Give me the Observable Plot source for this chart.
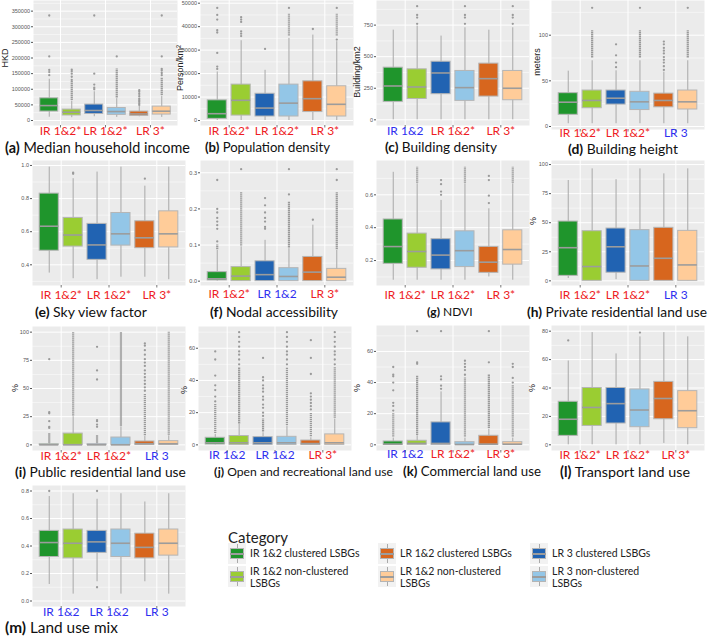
<!DOCTYPE html>
<html><head><meta charset="utf-8">
<script src="https://cdn.jsdelivr.net/npm/d3@7"></script>
<script src="https://cdn.jsdelivr.net/npm/@observablehq/plot@0.6"></script>
<style>
body{margin:0;background:#fff;}
#root{position:relative;width:709px;height:636px;overflow:hidden;font-family:Lato,"Open Sans",sans-serif;}
.title{position:absolute;white-space:nowrap;font-size:14.5px;line-height:1;color:#111;transform:translate(0,-50%);}
.ylab{position:absolute;white-space:nowrap;font-family:"Liberation Sans",Arial,sans-serif;font-size:9px;line-height:1;color:#222;transform:translate(-50%,-50%) rotate(-90deg);}
.leg{position:absolute;font-size:10.5px;color:#222;line-height:12px;white-space:nowrap;}
.sw{position:absolute;width:18px;height:21px;background:#f2f2f2;}
.sw .w{position:absolute;left:8.5px;width:1px;top:1px;bottom:1px;background:#aaa;}
.sw .b{position:absolute;left:2px;right:2px;top:5px;bottom:5px;border:1px solid #b5b5b5;}
.sw .m{position:absolute;left:2px;right:2px;top:10px;height:1.5px;background:#9c9c9c;}
</style></head><body><div id="root"></div>
<script>
const CATS = ["IR 1&2", "LR 1&2", "LR 3"];
const GROUPS = ["IR 1&2 clustered LSBGs", "IR 1&2 non-clustered LSBGs", "LR 1&2 clustered LSBGs", "LR 1&2 non-clustered LSBGs", "LR 3 clustered LSBGs", "LR 3 non-clustered LSBGs"];
const FILLS = ["#1f952c", "#9acd32", "#2163b2", "#93c6e7", "#d7661e", "#ffcc99"];
// legend swatches as printed in the reference legend
const LEGEND_FILLS = ["#1f952c", "#9acd32", "#d7661e", "#ffcc99", "#2163b2", "#93c6e7"];
const RED = "#ee1c24", BLUE = "#2f2fef";

// (a) Median household income  [lo, q1, median, q3, hi]
const incomeStats = [[10600,28600,47700,71000,132000],[9000,16000,26500,35000,62000],[12000,21000,32000,51000,92000],[10000,18000,28600,40000,70000],[12000,14800,21000,28600,45000],[10000,19000,29700,44500,78000]];
const incomeOut = [[145000,155000,162000,205000,336000],[130000,140000,150000,158000,163000],[100000,105000,115000,150000,336000],[205000],[50000,55000,60000,65000,70000,78000,85000,92000,97000],[145000,152000,160000,165000,205000,336000]];
const incomeDense = [null,[64000,125000],null,[72000,165000],null,[80000,135000]];
const incomeSig = [true,true,true];
const incomeTicks = [0,50000,100000,150000,200000,250000,300000,350000];

// (b) Population density
const popStats = [[0,700,2900,8600,20700],[0,2100,8600,15300,34000],[0,1700,5300,11400,21400],[0,1700,7400,15300,35000],[0,3600,9300,16700,36400],[0,1700,6900,14600,33600]];
const popOut = [[22000,23000,28800,37500,38500,43000,45000,48000],[36000,37000,38000,42000,43000,44000],[30500],[48000],[39000],[34500,48000]];
const popDense = [null,null,null,[36000,45500],null,[36000,45500]];
const popSig = [true,true,true];
const popTicks = [0,10000,20000,30000,40000,50000];

// (c) Building density
const bdStats = [[0,142,268,413,710],[0,165,260,400,742],[0,203,371,460,663],[0,150,255,387,729],[0,184,326,445,710],[0,155,250,387,729]];
const bdOut = [[],[760,810,830,900],[],[760,810,830,900],[],[760,810,830,900]];
const bdDense = [null,null,null,null,null,null];
const bdSig = [false,true,true];
const bdTicks = [0,250,500,750];

// (d) Building height
const bhStats = [[3,12.8,26.6,36.5,60.6],[3,20,28.5,39.4,72],[3,24,31,39.4,61],[3,18,27,38,72],[3,21,28.5,36,59.5],[3,18.6,27,39.4,72]];
const bhOut = [[],[130],[65,70,78,90],[130],[62,66,70,73,76,80,83,86,90,93],[130]];
const bhDense = [null,[75,105],null,[75,105],null,[75,105]];
const bhSig = [true,true,false];
const bhTicks = [0,50,100];

// (e) Sky view factor
const svfStats = [[0.35,0.485,0.633,0.83,0.99],[0.316,0.51,0.58,0.683,0.92],[0.31,0.43,0.52,0.647,0.96],[0.325,0.516,0.587,0.713,0.99],[0.325,0.5,0.563,0.663,0.875],[0.31,0.505,0.587,0.723,0.99]];
const svfOut = [[],[0.95,0.956],[],[],[0.92],[]];
const svfDense = [null,null,null,null,null,null];
const svfSig = [true,true,true];
const svfTicks = [0.4,0.6,0.8,1.0];

// (f) Nodal accessibility
const nodStats = [[0,0.002,0.0065,0.025,0.085],[0,0,0.014,0.039,0.095],[0,0,0.018,0.055,0.113],[0,0,0.013,0.036,0.09],[0,0,0.025,0.067,0.155],[0,0,0.011,0.034,0.085]];
const nodOut = [[0.11,0.145,0.155,0.165,0.175,0.19,0.2,0.28],[0.31],[0.145,0.15,0.165,0.175,0.19,0.21,0.23],[0.24,0.31],[0.17],[0.28,0.31]];
const nodDense = [[0.087,0.1],[0.097,0.245],null,[0.092,0.22],null,[0.087,0.245]];
const nodSig = [true,false,true];
const nodTicks = [0,0.1,0.2,0.3];

// (g) NDVI
const ndviStats = [[0.08,0.18,0.285,0.45,0.737],[0.08,0.156,0.255,0.364,0.667],[0.08,0.146,0.233,0.33,0.566],[0.08,0.16,0.26,0.378,0.667],[0.1,0.125,0.19,0.283,0.515],[0.08,0.175,0.267,0.384,0.667]];
const ndviOut = [[],[],[0.6,0.62,0.665,0.69],[],[0.55,0.595,0.69,0.715],[]];
const ndviDense = [null,[0.67,0.77],null,[0.67,0.77],null,[0.67,0.77]];
const ndviSig = [true,true,true];
const ndviTicks = [0.2,0.4,0.6];

// (h) Private residential land use
const privStats = [[2,4.3,28.5,51,86.3],[0,0,12.3,42.7,96.3],[1,7,29.3,45,87],[0,0,12.8,43.6,96.3],[0,0,19.4,45.6,92],[0,0,13.7,43,96.3]];
const privOut = [[],[],[],[],[],[]];
const privDense = [null,null,null,null,null,null];
const privSig = [true,true,false];
const privTicks = [0,25,50,75,100];

// (i) Public residential land use
const pubStats = [[0,0,0,0.5,1.2],[0,0,0,10,25],[0,0,0,0.5,1.2],[0,0,0,6.5,16],[0,0,1,3,7.5],[0,0,1,3.3,8]];
const pubOut = [[15,16,21,28,29,76],[],[16,18,21,22,58,66,87],[],[48,51,54,57,60,63,66,70,73,76,80,84,88,90],[]];
const pubDense = [[1.5,10],[25.5,100],[1.5,8],[16.5,100],[8,45],[8.5,100]];
const pubSig = [true,true,false];
const pubTicks = [0,25,50,75,100];

// (j) Open and recreational land use
const openStats = [[0,0.2,1.3,4.4,6.5],[0,0,1.3,5.5,12.8],[0,0,1.3,4.8,7.5],[0,0,1.3,5,11.7],[0,0,0.8,2.7,4.4],[0,0,1.3,6.5,16]];
const openOut = [[27,30,34,37,43,53,58],[50,53,56,58,61,64,67,70],[18,20,23,25,28,30,33,35,37,40,42,54],[50,53,56,58,61,64,67,70],[22,24,26,28,30,32,44,54,65],[50,53,56,58,61,64,67,70]];
const openDense = [[7,25],[13,48],[8,16],[12,48],[5,20],[16.5,48]];
const openSig = [false,false,true];
const openTicks = [0,20,40,60];

// (k) Commercial land use
const comStats = [[0,0,0.4,2.15,4.3],[0,0,0.9,2.6,5.8],[0,0,0.9,14.4,34],[0,0,0.2,1.7,4.3],[0,0,0.4,5.8,10],[0,0,0.4,1.7,4.3]];
const comOut = [[22,25,27,35,40,44,45,50],[52,53,73],[36,38,42,44,73],[45,48,50,52,54],[53,73],[40,43,50,52]];
const comDense = [[5,20],[6,44],null,[5,43],[10.5,45],[5,38]];
const comSig = [false,true,true];
const comTicks = [0,20,40,60];

// (l) Transport land use
const traStats = [[0,6.3,18,30.3,59],[0,13.3,26.3,40,79],[0,15,29,40,64],[0,12.4,24.5,39,76],[1,18,32.6,44.3,79],[0,11.7,24,37.8,76]];
const traOut = [[73.5],[],[],[79],[],[]];
const traDense = [null,null,null,null,null,null];
const traSig = [true,true,true];
const traTicks = [0,20,40,60,80];

// (m) Land use mix
const mixStats = [[0.12,0.32,0.425,0.51,0.76],[0.05,0.31,0.42,0.52,0.78],[0.14,0.35,0.43,0.51,0.74],[0.05,0.32,0.42,0.52,0.78],[0.14,0.31,0.39,0.49,0.72],[0.05,0.33,0.42,0.52,0.78]];
const mixOut = [[0.8],[],[0.8,0.1],[],[],[]];
const mixDense = [null,null,null,null,null,null];
const mixSig = [false,false,false];
const mixTicks = [0,0.2,0.4,0.6,0.8];

const f0 = d => String(d), f1 = d => d.toFixed(1);
const panels = [
 {id:"a", name:"Median household income", ylab:"HKD", ylx:5, yly:58, stats:incomeStats, out:incomeOut, dense:incomeDense, sig:incomeSig, ticks:incomeTicks, fmt:f0, domain:[-16000,384000], L:33, T:0, W:144, H:125, ldy:6, tx0:5, tx1:190, ty:148},
 {id:"b", name:"Population density", ylab:"Person/km²", ylx:180, yly:68, stats:popStats, out:popOut, dense:popDense, sig:popSig, ticks:popTicks, fmt:f0, domain:[-2130,51150], L:200, T:0, W:153, H:125, ldy:6, tx0:205, tx1:330, ty:148},
 {id:"c", name:"Building density", ylab:"Building/km2", ylx:357, yly:72, stats:bdStats, out:bdOut, dense:bdDense, sig:bdSig, ticks:bdTicks, fmt:f0, domain:[-45,945], L:376, T:0, W:153, H:125, ldy:6, tx0:385, tx1:497, ty:147.5},
 {id:"d", name:"Building height", ylab:"meters", ylx:537, yly:62, stats:bhStats, out:bhOut, dense:bhDense, sig:bhSig, ticks:bhTicks, fmt:f0, domain:[-3.3,138], L:551, T:0, W:153, H:129, ldy:4, tx0:568, tx1:678, ty:149},
 {id:"e", name:"Sky view factor", ylab:"", stats:svfStats, out:svfOut, dense:svfDense, sig:svfSig, ticks:svfTicks, fmt:f1, domain:[0.275,1.03], L:32, T:160, W:153, H:125, ldy:10, tx0:35, tx1:147, ty:312},
 {id:"f", name:"Nodal accessibility", ylab:"", stats:nodStats, out:nodOut, dense:nodDense, sig:nodSig, ticks:nodTicks, fmt:f1, domain:[-0.012,0.334], L:200, T:160, W:153, H:125, ldy:9, tx0:210, tx1:338, ty:312},
 {id:"g", name:"NDVI", ylab:"", stats:ndviStats, out:ndviOut, dense:ndviDense, sig:ndviSig, ticks:ndviTicks, fmt:f1, domain:[0.048,0.809], L:376, T:160, W:153, H:125, ldy:10, tx0:427, tx1:470, ty:312},
 {id:"h", name:"Private residential land use", ylab:"%", ylx:533, yly:221, stats:privStats, out:privOut, dense:privDense, sig:privSig, ticks:privTicks, fmt:f0, domain:[-4,103.5], L:551, T:160, W:153, H:125, ldy:10, tx0:527, tx1:707, ty:312},
 {id:"i", name:"Public residential land use", ylab:"%", ylx:15, yly:388, stats:pubStats, out:pubOut, dense:pubDense, sig:pubSig, ticks:pubTicks, fmt:f0, domain:[-5,105], L:32, T:326, W:153, H:124, ldy:6, tx0:15, tx1:186, ty:472},
 {id:"j", name:"Open and recreational land use", ylab:"%", ylx:184, yly:390, stats:openStats, out:openOut, dense:openDense, sig:openSig, ticks:openTicks, fmt:f0, domain:[-3.5,73.5], L:198, T:326, W:153, H:124, ldy:5, tx0:214, tx1:393, ty:472},
 {id:"k", name:"Commercial land use", ylab:"%", ylx:357, yly:388, stats:comStats, out:comOut, dense:comDense, sig:comSig, ticks:comTicks, fmt:f0, domain:[-3.65,76.65], L:376, T:325, W:153, H:125, ldy:4, tx0:403, tx1:541, ty:472},
 {id:"l", name:"Transport land use", ylab:"%", ylx:532, yly:388, stats:traStats, out:traOut, dense:traDense, sig:traSig, ticks:traTicks, fmt:f0, domain:[-4,84], L:551, T:325, W:153, H:125, ldy:5, tx0:560, tx1:690, ty:472},
 {id:"m", name:"Land use mix", ylab:"", stats:mixStats, out:mixOut, dense:mixDense, sig:mixSig, ticks:mixTicks, fmt:f1, domain:[-0.04,0.84], L:32, T:485, W:153, H:121, ldy:6, tx0:5, tx1:118, ty:628}
];

const root = document.getElementById("root");
const ml = 34, mr = 2, mt = 3, mb = 22;

for (const p of panels) {
  const boxes = p.stats.map((s, i) => ({
    x: Math.floor(i / 2) + 1 + (i % 2 ? 0.25 : -0.25),
    lo: s[0], q1: s[1], med: s[2], q3: s[3], hi: s[4], fill: FILLS[i]
  }));
  const pts = p.out.flatMap((arr, i) => arr.map(v => ({x: boxes[i].x, y: v})));
  const dense = p.dense.map((r, i) => r ? {x: boxes[i].x, y1: r[0], y2: r[1]} : null).filter(Boolean);
  const step = p.ticks[1] - p.ticks[0];
  const minor = [p.ticks[0] - step / 2, ...p.ticks.map(t => t + step / 2)].filter(v => v > p.domain[0] && v < p.domain[1]);
  const tickLen = (p.domain[1] - p.domain[0]) * 2.5 / p.H;  // 2.5px tick below the panel
  const svg = Plot.plot({
    width: p.W + ml + mr, height: p.H + mt + mb,
    marginLeft: ml, marginRight: mr, marginTop: mt, marginBottom: mb,
    x: {domain: [0.4, 3.6], axis: null},
    y: {domain: p.domain, axis: null},
    color: {type: "identity"},
    style: {background: "transparent", overflow: "visible", fontFamily: "'Liberation Sans', Arial, sans-serif"},
    marks: [
      Plot.frame({fill: "#ebebeb", stroke: null}),
      Plot.ruleY(minor, {stroke: "#fff", strokeWidth: 0.5}),
      Plot.ruleY(p.ticks, {stroke: "#fff", strokeWidth: 1}),
      Plot.ruleX([1, 2, 3], {stroke: "#fff", strokeWidth: 1}),
      Plot.ruleX(boxes, {x: "x", y1: "lo", y2: "hi", stroke: "#a8a8a8", strokeWidth: 1}),
      Plot.ruleX(dense, {x: "x", y1: "y1", y2: "y2", stroke: "#9a9a9a", strokeWidth: 2.2, strokeDasharray: "1.4 0.6"}),
      Plot.dot(pts, {x: "x", y: "y", r: 1.15, fill: "#9a9a9a"}),
      Plot.rect(boxes, {x1: d => d.x - 0.2, x2: d => d.x + 0.2, y1: "q1", y2: "q3", fill: "fill", stroke: "#b5b5b5", strokeWidth: 1}),
      Plot.ruleY(boxes, {x1: d => d.x - 0.2, x2: d => d.x + 0.2, y: "med", stroke: "#9c9c9c", strokeWidth: 1.6}),
      Plot.axisY(p.ticks, {tickSize: 2, tickPadding: 1.5, fontSize: 5.5, tickFormat: p.fmt, stroke: "#555", fill: "#555", label: null}),
      Plot.ruleX([1, 2, 3], {y1: p.domain[0], y2: p.domain[0] - tickLen, stroke: "#555", strokeWidth: 0.8}),
      Plot.text(CATS, {x: (d, i) => i + 1, frameAnchor: "bottom", dy: p.ldy, text: (d, i) => d + (p.sig[i] ? "*" : ""), fill: (d, i) => p.sig[i] ? RED : BLUE, fontSize: 12, fontFamily: "Lato", lineAnchor: "middle"})
    ]
  });
  svg.style.position = "absolute";
  svg.style.left = (p.L - ml) + "px";
  svg.style.top = (p.T - mt) + "px";
  root.appendChild(svg);

  const t = document.createElement("div");
  t.className = "title";
  t.style.left = p.tx0 + "px"; t.style.top = p.ty + "px";
  t.innerHTML = "<b>(" + p.id + ")</b> " + p.name;
  root.appendChild(t);
  const w = t.getBoundingClientRect().width;
  const fs = Math.max(12, Math.min(16, 14.5 * (p.tx1 - p.tx0) / w));
  t.style.fontSize = fs.toFixed(2) + "px";

  if (p.ylab) {
    const y = document.createElement("div");
    y.className = "ylab";
    y.style.left = p.ylx + "px"; y.style.top = p.yly + "px";
    y.textContent = p.ylab;
    root.appendChild(y);
  }
}

// legend
const legTitle = document.createElement("div");
legTitle.className = "leg";
legTitle.style.cssText = "left:228px;top:528px;font-size:15px;line-height:18px;";
legTitle.textContent = "Category";
root.appendChild(legTitle);
const legCols = [228, 378, 530];
const legRows = [543, 566];
GROUPS.forEach((g, i) => {
  const cx = legCols[Math.floor(i / 2)], cy = legRows[i % 2];
  const sw = document.createElement("div");
  sw.className = "sw";
  sw.style.left = cx + "px"; sw.style.top = cy + "px";
  sw.innerHTML = '<div class="w"></div><div class="b" style="background:' + LEGEND_FILLS[i] + '"></div><div class="m"></div>';
  root.appendChild(sw);
  const tx = document.createElement("div");
  tx.className = "leg";
  tx.style.left = (cx + 22) + "px";
  const parts = g.split(" non-clustered ");
  if (parts.length === 2) {
    tx.innerHTML = parts[0] + " non-clustered<br>" + parts[1];
    tx.style.top = (cy - 1) + "px";
  } else {
    tx.textContent = g;
    tx.style.top = (cy + 4) + "px";
  }
  root.appendChild(tx);
});
</script></body></html>
